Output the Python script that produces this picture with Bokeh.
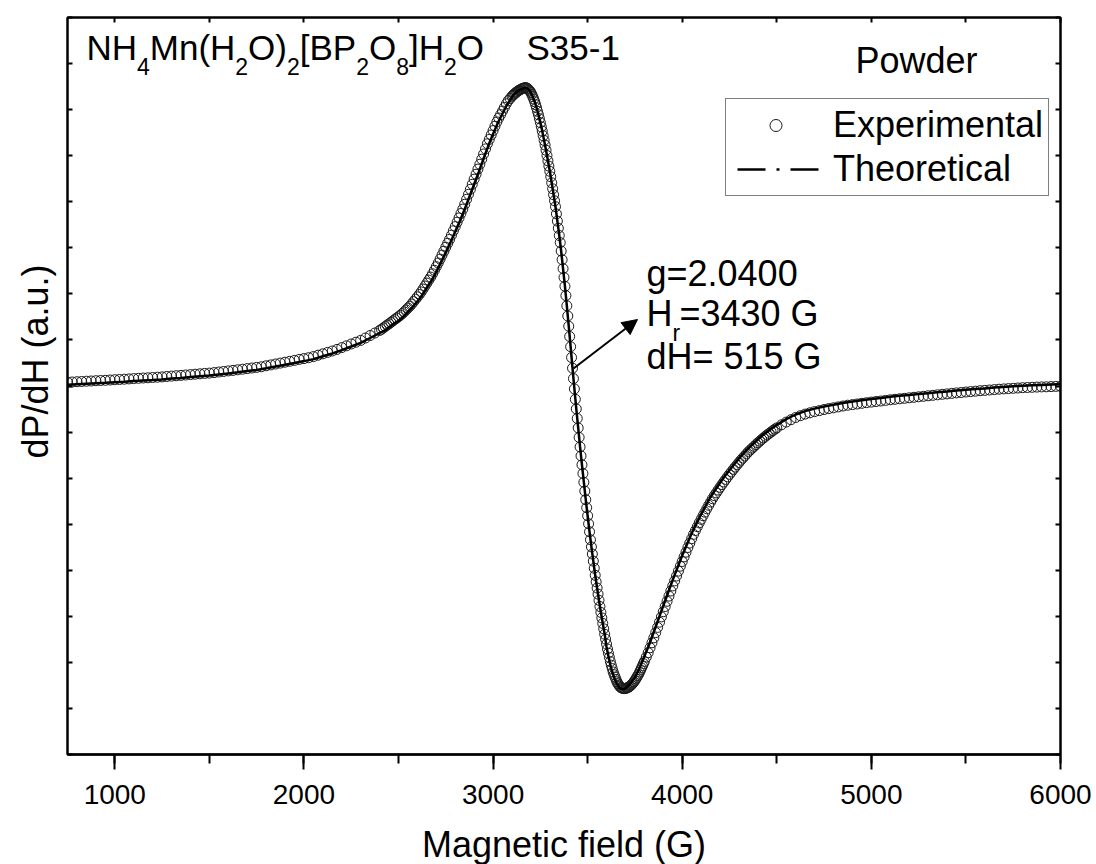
import math
from bokeh.plotting import figure
from bokeh.models import (Range1d, LinearAxis, SingleIntervalTicker, Label, Arrow,
                          NormalHead, Legend, LegendItem, Title)
from bokeh.embed import file_html
from bokeh.resources import INLINE

# ---------------- data ----------------
# Experimental spectrum: magnetic field (G) and dP/dH (a.u.)
field_a = [750, 775, 800, 825, 850, 875, 900, 925, 950, 975, 1000, 1025, 1050, 1075, 1100,
           1125, 1150, 1175, 1200, 1225, 1250, 1275, 1300, 1325, 1350, 1375, 1400, 1425,
           1450, 1475, 1500, 1525, 1550, 1575, 1600, 1625, 1650, 1675, 1700, 1725, 1750,
           1775, 1800, 1825, 1850, 1875, 1900, 1925, 1950, 1975, 2000, 2025, 2050, 2075,
           2100, 2125, 2150, 2175, 2200, 2225, 2250, 2275, 2300, 2325, 2350, 2375, 2400]
signal_a = [3.8, 4.0, 4.3, 4.5, 4.8, 5.0, 5.3, 5.5, 5.7, 6.0, 6.3, 6.5, 6.8, 7.1, 7.4,
            7.7, 8.0, 8.2, 8.5, 8.8, 9.1, 9.5, 9.9, 10.3, 10.6, 11.0, 11.4, 11.8,
            12.2, 12.6, 12.9, 13.4, 14.0, 14.5, 15.1, 15.6, 16.2, 16.8, 17.4, 18.0, 18.6,
            19.2, 20.2, 21.1, 22.0, 22.9, 23.8, 24.7, 25.6, 26.6, 27.4, 28.3, 29.4, 30.8,
            32.2, 33.6, 35.0, 36.6, 38.4, 40.2, 42.0, 43.8, 45.6, 48.0, 50.5, 53.0, 55.5]

field_b = [2410, 2420, 2430, 2440, 2450, 2460, 2470, 2480, 2490, 2500,
           2510, 2520, 2530, 2540, 2550, 2560, 2570, 2580, 2590, 2600,
           2610, 2620, 2630, 2640, 2650, 2660, 2670, 2680, 2690, 2700,
           2710, 2720, 2730, 2740, 2750, 2760, 2770, 2780, 2790, 2800,
           2810, 2820, 2830, 2840, 2850, 2860, 2870, 2880, 2890, 2900,
           2910, 2920, 2930, 2940, 2950, 2960, 2970, 2980, 2990, 3000,
           3010, 3020, 3030, 3040, 3050, 3060, 3070, 3080, 3090, 3100]
signal_b = [56.7, 58.1, 59.5, 60.9, 62.2, 63.6, 65.1, 66.5, 67.9, 69.3,
            70.8, 72.4, 74.2, 76.1, 78.0, 79.8, 82.0, 84.4, 86.8, 89.1,
            91.5, 94.1, 97.0, 100.0, 102.9, 105.9, 108.9, 112.2, 115.7, 119.3,
            123.0, 126.9, 130.9, 134.8, 138.8, 142.7, 146.6, 150.8, 155.2, 159.4,
            163.8, 168.1, 172.5, 176.9, 181.7, 186.7, 191.7, 196.7, 201.7, 206.8,
            211.8, 216.9, 221.7, 226.8, 232.0, 237.1, 242.2, 246.6, 251.0, 255.4,
            259.8, 264.1, 268.0, 271.4, 275.0, 278.6, 282.2, 285.3, 287.5, 289.7]

field_c = [3105, 3110, 3115, 3120, 3125, 3130, 3135, 3140, 3145, 3150, 3155, 3160, 3165, 3170, 3175, 3180, 3185, 3190, 3195, 3200,
           3205, 3210, 3215, 3220, 3225, 3230, 3235, 3240, 3245, 3250, 3255, 3260, 3265, 3270, 3275, 3280, 3285, 3290, 3295, 3300,
           3305, 3310, 3315, 3320, 3325, 3330, 3335, 3340, 3345, 3350, 3355, 3360, 3365, 3370, 3375, 3380, 3385, 3390, 3395, 3400,
           3405, 3410, 3415, 3420, 3425, 3430, 3435, 3440, 3445, 3450, 3455, 3460, 3465, 3470, 3475, 3480, 3485, 3490, 3495, 3500,
           3505, 3510, 3515, 3520, 3525, 3530, 3535, 3540, 3545, 3550, 3555, 3560, 3565, 3570, 3575, 3580, 3585, 3590, 3595, 3600,
           3605, 3610, 3615, 3620, 3625, 3630, 3635, 3640, 3645, 3650, 3655, 3660, 3665, 3670, 3675, 3680, 3685, 3690, 3695, 3700,
           3705, 3710, 3715, 3720, 3725, 3730, 3735, 3740, 3745, 3750, 3755, 3760, 3765, 3770, 3775, 3780, 3785, 3790, 3795, 3800]
signal_c = [290.7, 291.6, 292.5, 293.3, 294.1, 294.8, 295.4, 296.0, 296.5, 297.0, 297.4, 297.8, 298.1, 298.4, 298.3, 297.7, 297.0, 296.0, 294.9, 293.4,
            291.5, 289.4, 286.9, 284.3, 281.3, 278.2, 274.7, 271.2, 267.3, 263.4, 259.2, 254.9, 250.3, 245.6, 240.9, 235.8, 230.5, 225.2, 219.9, 214.7,
            209.2, 203.2, 197.2, 191.2, 185.2, 179.3, 172.1, 164.9, 157.8, 150.5, 143.4, 135.0, 126.3, 117.4, 108.6, 99.7, 90.4, 80.2, 70.0, 59.8,
            49.5, 39.3, 28.5, 17.8, 7.4, -2.9, -13.3, -22.9, -32.4, -41.9, -51.4, -60.9, -69.9, -78.8, -87.5, -96.3, -105.1, -113.7, -121.7, -129.8,
            -137.8, -145.8, -153.8, -160.9, -168.0, -175.1, -182.2, -189.3, -195.8, -202.0, -208.1, -214.3, -220.5, -226.4, -231.9, -237.4, -242.8, -248.2, -253.1, -258.1,
            -263.0, -267.2, -271.4, -275.6, -279.2, -282.6, -286.0, -288.7, -291.1, -293.5, -295.8, -297.7, -299.1, -300.4, -301.5, -301.9, -302.3, -302.6, -302.6, -302.4,
            -302.1, -301.8, -301.3, -300.7, -300.0, -299.1, -298.1, -297.0, -295.8, -294.4, -292.9, -291.3, -289.6, -288.1, -286.0, -284.0, -281.9, -279.8, -277.6, -275.4]

field_d = [3810, 3820, 3830, 3840, 3850, 3860, 3870, 3880, 3890, 3900,
           3910, 3920, 3930, 3940, 3950, 3960, 3970, 3980, 3990, 4000,
           4010, 4020, 4030, 4040, 4050, 4060, 4070, 4080, 4090, 4100,
           4110, 4120, 4130, 4140, 4150, 4160, 4170, 4180, 4190, 4200,
           4210, 4220, 4230, 4240, 4250, 4260, 4270, 4280, 4290, 4300,
           4310, 4320, 4330, 4340, 4350, 4360, 4370, 4380, 4390, 4400,
           4410, 4420, 4430, 4440, 4450, 4460, 4470, 4480, 4490, 4500]
signal_d = [-271.1, -266.7, -261.8, -256.8, -251.8, -246.6, -241.4, -236.2, -230.9, -225.7,
            -220.5, -215.3, -210.1, -205.0, -199.9, -194.9, -190.0, -185.1, -180.2, -175.5,
            -170.9, -166.2, -161.5, -157.1, -152.7, -148.3, -144.5, -140.7, -136.9, -133.3,
            -129.7, -126.2, -122.7, -119.3, -116.0, -112.7, -109.6, -106.9, -104.1, -101.3,
            -98.6, -96.0, -93.4, -90.8, -88.3, -85.9, -83.4, -81.1, -78.8, -76.5,
            -74.2, -72.1, -70.0, -67.9, -65.8, -64.0, -62.2, -60.4, -58.6, -56.8,
            -55.2, -53.5, -51.9, -50.3, -48.8, -47.4, -46.0, -44.5, -43.2, -41.9]

field_e = [4525, 4550, 4575, 4600, 4625, 4650, 4675, 4700, 4725, 4750,
           4775, 4800, 4825, 4850, 4875, 4900, 4925, 4950, 4975, 5000,
           5025, 5050, 5075, 5100, 5125, 5150, 5175, 5200, 5225, 5250,
           5275, 5300, 5325, 5350, 5375, 5400, 5425, 5450, 5475, 5500,
           5525, 5550, 5575, 5600, 5625, 5650, 5675, 5700, 5725, 5750,
           5775, 5800, 5825, 5850, 5875, 5900, 5925, 5950, 5975, 6000]
signal_e = [-38.8, -36.1, -33.7, -31.5, -29.7, -28.1, -26.8, -25.6, -24.6, -23.5,
            -22.6, -21.8, -20.9, -20.0, -19.2, -18.6, -18.0, -17.3, -16.7, -16.1,
            -15.5, -15.0, -14.4, -13.8, -13.3, -12.8, -12.3, -11.8, -11.3, -10.8,
            -10.3, -9.8, -9.3, -8.8, -8.3, -7.9, -7.4, -6.9, -6.5, -6.0,
            -5.6, -5.2, -4.7, -4.4, -4.0, -3.6, -3.2, -2.9, -2.6, -2.3,
            -2.0, -1.7, -1.5, -1.3, -1.1, -0.9, -0.8, -0.6, -0.4, -0.3]

# Theoretical (fitted) curve
fit_field_a = [750, 800, 850, 900, 950, 1000, 1050, 1100, 1150, 1200, 1250, 1300, 1350, 1400,
               1450, 1500, 1550, 1600, 1650, 1700, 1750, 1800, 1850, 1900, 1950, 2000, 2050,
               2100, 2150, 2200, 2250, 2300, 2350, 2400]
fit_signal_a = [1.3, 1.8, 2.3, 2.8, 3.2, 3.8, 4.3, 4.9, 5.5, 6.0, 6.6, 7.4, 8.1, 8.9,
                9.7, 10.4, 11.5, 12.6, 13.7, 14.9, 16.1, 17.7, 19.5, 21.3, 23.1, 24.9, 26.9,
                29.7, 32.5, 35.9, 39.5, 43.1, 48.0, 53.0]
fit_field_b = [2425, 2450, 2475, 2500, 2525, 2550, 2575, 2600, 2625, 2650, 2675, 2700, 2725, 2750,
               2775, 2800, 2825, 2850, 2875, 2900, 2925, 2950, 2975, 3000, 3025, 3050, 3075, 3100]
fit_signal_b = [55.3, 58.7, 62.3, 65.0, 69.2, 74.0, 79.2, 84.6, 91.0, 98.4, 105.5, 114.3, 123.9, 133.8,
                143.7, 154.4, 165.3, 176.7, 189.2, 201.8, 214.3, 227.5, 240.4, 251.9, 263.0, 272.5, 281.7, 288.7]
fit_field_c = [3110, 3120, 3130, 3140, 3150, 3160, 3170, 3180, 3190, 3200,
               3210, 3220, 3230, 3240, 3250, 3260, 3270, 3280, 3290, 3300,
               3310, 3320, 3330, 3340, 3350, 3360, 3370, 3380, 3390, 3400,
               3410, 3420, 3430, 3440, 3450, 3460, 3470, 3480, 3490, 3500,
               3510, 3520, 3530, 3540, 3550, 3560, 3570, 3580, 3590, 3600,
               3610, 3620, 3630, 3640, 3650, 3660, 3670, 3680, 3690, 3700,
               3710, 3720, 3730, 3740, 3750, 3760, 3770, 3780, 3790, 3800]
fit_signal_c = [291.6, 293.3, 294.8, 296.0, 297.0, 297.8, 298.4, 297.7, 296.0, 293.4,
                289.4, 284.3, 278.2, 271.2, 263.4, 254.9, 245.6, 235.8, 225.2, 214.7,
                203.2, 191.2, 179.3, 164.9, 150.5, 135.0, 117.4, 99.7, 80.2, 59.8,
                39.3, 17.8, -2.9, -22.9, -41.9, -60.9, -78.8, -96.3, -113.7, -129.8,
                -145.8, -160.9, -175.1, -189.3, -202.0, -214.3, -226.4, -237.4, -248.2, -261.0,
                -270.5, -279.0, -286.0, -291.5, -296.0, -299.5, -302.0, -303.0, -303.2, -302.3,
                -300.5, -298.7, -296.6, -294.0, -291.4, -287.8, -284.1, -279.5, -274.8, -270.4]
fit_field_d = [3825, 3850, 3875, 3900, 3925, 3950, 3975, 4000, 4025, 4050, 4075, 4100, 4125, 4150,
               4175, 4200, 4225, 4250, 4275, 4300, 4325, 4350, 4375, 4400, 4425, 4450, 4475, 4500]
fit_signal_d = [-258.8, -245.8, -232.8, -219.7, -206.7, -193.9, -181.6, -169.5, -158.4, -147.2, -137.6, -128.3, -119.5, -111.0,
                -103.8, -96.8, -90.2, -84.3, -78.3, -72.5, -67.1, -62.3, -57.8, -53.3, -49.2, -45.8, -42.3, -38.9]
fit_field_e = [4550, 4600, 4650, 4700, 4750, 4800, 4850, 4900, 4950, 5000, 5050, 5100, 5150, 5200, 5250,
               5300, 5350, 5400, 5450, 5500, 5550, 5600, 5650, 5700, 5750, 5800, 5850, 5900, 5950, 6000]
fit_signal_e = [-33.1, -28.5, -25.1, -22.6, -20.5, -18.8, -17.0, -15.6, -14.3, -13.1, -12.0, -10.8, -9.8, -9.0, -8.1,
                -7.2, -6.3, -5.5, -4.6, -3.8, -3.1, -2.4, -1.6, -0.9, -0.3, 0.3, 0.7, 1.1, 1.4, 1.7]

exp_field = field_a + field_b + field_c + field_d + field_e
exp_signal = signal_a + signal_b + signal_c + signal_d + signal_e
fit_field = fit_field_a + fit_field_b + fit_field_c + fit_field_d + fit_field_e
fit_signal = fit_signal_a + fit_signal_b + fit_signal_c + fit_signal_d + fit_signal_e

# ---------------- layout ----------------
FONT = "Liberation Sans"
X0, X1 = 750, 6000
Y0, Y1 = -368.5, 368.5
W, H = 1096, 864
FL, FT, FW, FH = 67, 17, 993, 737   # frame position in picture pixels


def gx(px):
    return X0 + (px - FL) * (X1 - X0) / FW


def gy(py):
    return Y1 - (py - FT) * (Y1 - Y0) / FH


p = figure(frame_width=FW, frame_height=FH,
           min_border_left=FL, min_border_right=W - FL - FW,
           min_border_top=FT, min_border_bottom=H - FT - FH,
           x_range=Range1d(X0, X1), y_range=Range1d(Y0, Y1),
           x_axis_location=None, y_axis_location=None,
           output_backend="svg", toolbar_location=None)
p.grid.grid_line_color = None
p.outline_line_color = "black"
p.outline_line_width = 2
p.background_fill_color = "white"
p.border_fill_color = "white"


def make_axis(ticker, tin, tout, mtin=0, mtout=0, labels=False):
    ax = LinearAxis(ticker=ticker)
    ax.axis_line_color = "black"
    ax.axis_line_width = 2
    ax.major_tick_in = tin
    ax.major_tick_out = tout
    ax.minor_tick_in = mtin
    ax.minor_tick_out = mtout
    ax.major_tick_line_width = 2
    ax.minor_tick_line_width = 2
    ax.major_tick_line_color = "black"
    ax.minor_tick_line_color = "black"
    if labels:
        ax.major_label_text_font = FONT
        ax.major_label_text_font_size = "28px"
        ax.major_label_text_color = "black"
        ax.major_label_standoff = 15
    else:
        ax.major_label_text_font_size = "0px"
        ax.major_label_text_alpha = 0
        ax.major_label_standoff = 0
    return ax


bottom = make_axis(SingleIntervalTicker(interval=1000, num_minor_ticks=2), 0, 15, 0, 9, labels=True)
bottom.axis_line_width = 2.5
bottom.axis_label = "Magnetic field (G)"
bottom.axis_label_text_font = FONT
bottom.axis_label_text_font_size = "36px"
bottom.axis_label_text_font_style = "normal"
bottom.axis_label_text_color = "black"
bottom.axis_label_standoff = 17
p.add_layout(bottom, "below")
p.add_layout(make_axis(SingleIntervalTicker(interval=500, num_minor_ticks=0), 5, 0), "above")
p.add_layout(make_axis(SingleIntervalTicker(interval=(Y1 - Y0) / 16, num_minor_ticks=0), 5, 0), "left")
p.add_layout(make_axis(SingleIntervalTicker(interval=(Y1 - Y0) / 16, num_minor_ticks=0), 5, 0), "right")

# y title, shifted upwards like in the reference (text from y=458 up to y=264)
p.add_layout(Title(text="dP/dH (a.u.)", align="left", offset=(FT + FH) - 458,
                   vertical_align="middle", standoff=22,
                   text_font=FONT, text_font_size="36px", text_font_style="normal",
                   text_color="black"), "left")

# ---------------- data glyphs ----------------
exp_r = p.scatter(exp_field, exp_signal, marker="circle", size=10,
                  fill_color=None, line_color="#1a1a1a", line_width=1)
fit_r = p.line(fit_field, fit_signal, line_color="black", line_width=2.5)
# legend sample for the fit, drawn with the dash-dot style of the reference legend
fit_key = p.line(fit_field, fit_signal, line_color="black", line_width=2.5,
                 line_dash="28 11 3 11", line_dash_offset=47, visible=False)

legend = Legend(items=[LegendItem(label="Experimental", renderers=[exp_r]),
                       LegendItem(label="Theoretical", renderers=[fit_key])],
                location=(725 - FL, (FT + FH) - 196),
                label_text_font=FONT, label_text_font_size="36px", label_text_color="black",
                glyph_width=89, glyph_height=30, label_standoff=13,
                padding=5, spacing=2, margin=0,
                border_line_color="black", border_line_width=1.5,
                background_fill_color="white", background_fill_alpha=1)
p.add_layout(legend)

# ---------------- texts ----------------
def add_text(txt, px, py, size):
    p.add_layout(Label(x=gx(px), y=gy(py), text=txt, text_font=FONT,
                       text_font_size=size, text_color="black", text_align="left",
                       text_baseline="middle"))


MAIN, SUB = "35px", "23px"
MY, SY = 47, 66
pieces = [("NH", 86, MAIN, MY), ("4", 136.5, SUB, SY), ("Mn(H", 149.3, MAIN, MY),
          ("2", 234.8, SUB, SY), ("O)", 247.6, MAIN, MY), ("2", 286.5, SUB, SY),
          ("[BP", 299.3, MAIN, MY), ("2", 355.7, SUB, SY), ("O", 368.5, MAIN, MY),
          ("8", 395.7, SUB, SY), ("]H", 408.5, MAIN, MY), ("2", 443.5, SUB, SY),
          ("O", 456.3, MAIN, MY), ("S35-1", 526, MAIN, MY)]
for t, x, s, yy in pieces:
    add_text(t, x, yy, s)

add_text("Powder", 855, 60, "36px")

add_text("g=2.0400", 646, 273, "36px")
add_text("H", 646, 313, "36px")
add_text("r", 672, 332, "23px")
add_text("=3430 G", 679, 313, "36px")
add_text("dH= 515 G", 646, 356, "36px")

p.add_layout(Arrow(end=NormalHead(size=15, fill_color="black", line_color="black", line_width=1),
                   x_start=gx(573), y_start=gy(368), x_end=gx(637), y_end=gy(319),
                   line_color="black", line_width=2))

open("out.html", "w").write(file_html(p, INLINE))
